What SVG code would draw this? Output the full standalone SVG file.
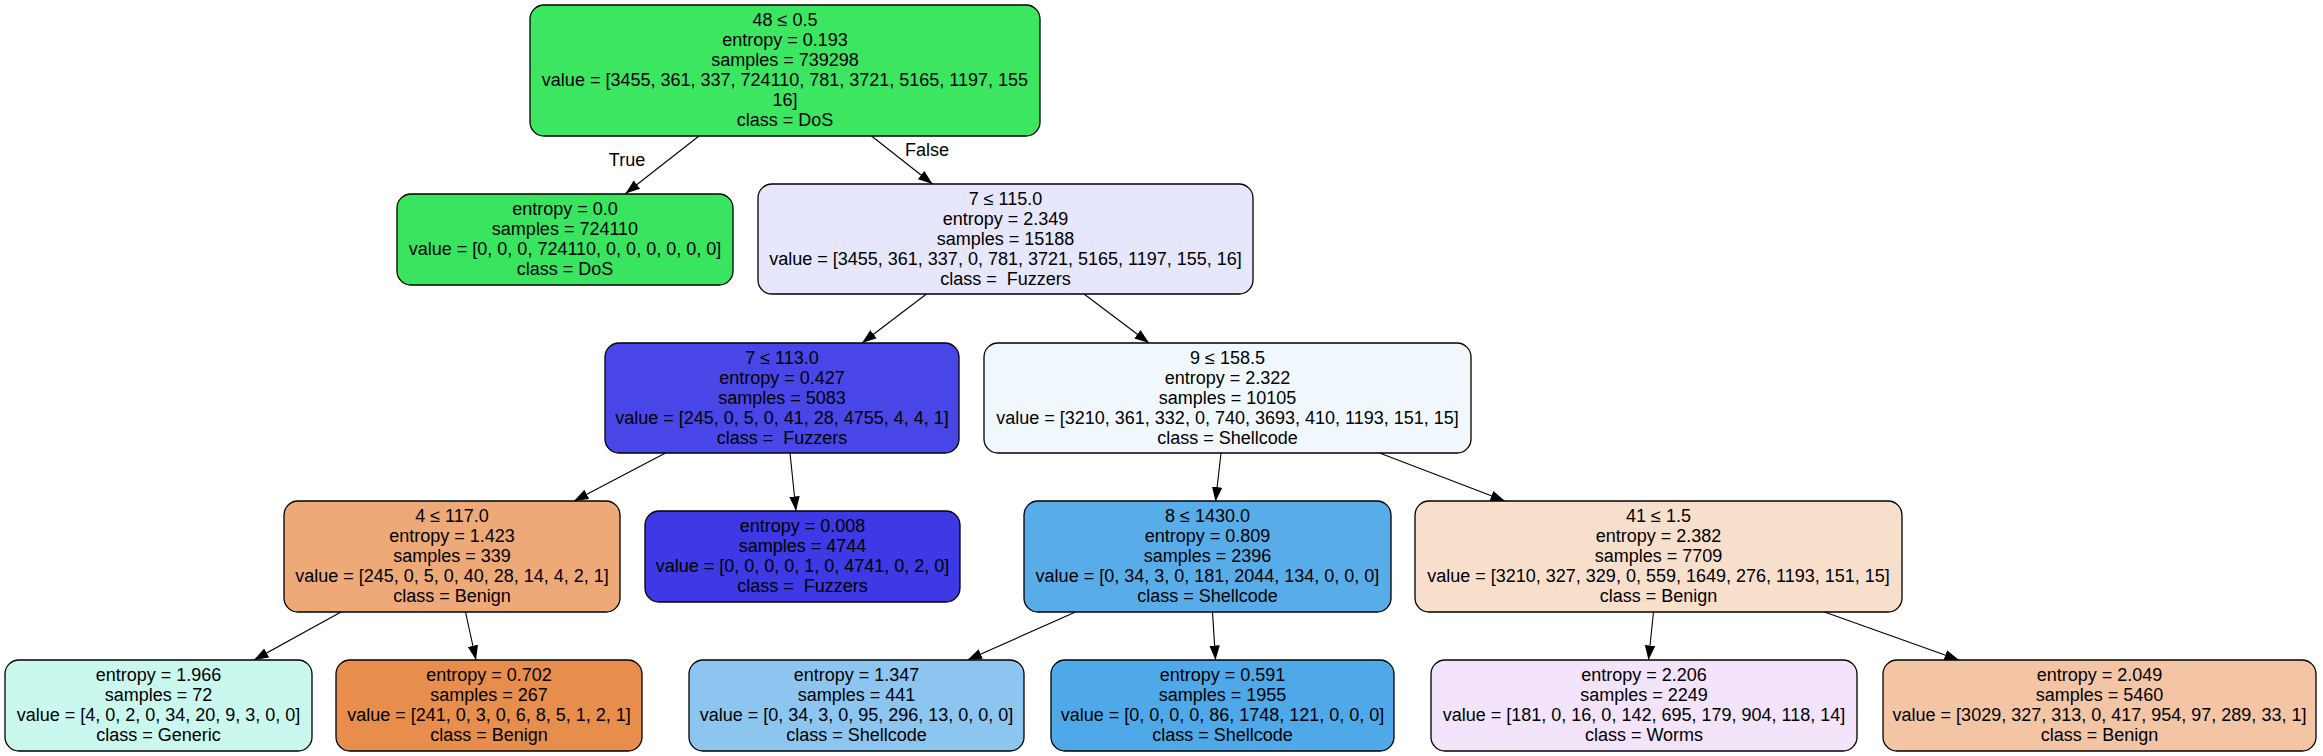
<svg xmlns="http://www.w3.org/2000/svg" width="2323" height="756" viewBox="0 0 2323 756">
<style>
rect.n{stroke:#000;stroke-width:1.3}
text{font-family:"Liberation Sans",Arial,Helvetica,sans-serif;font-size:18px;fill:#000;text-anchor:middle}
.e line{stroke:#000;stroke-width:1.1;marker-end:url(#arr)}
</style>
<defs>
<marker id="arr" markerWidth="15" markerHeight="11" refX="14.5" refY="5.2" orient="auto" markerUnits="userSpaceOnUse">
<path d="M0,0 L14.5,5.2 L0,10.4 Z" fill="#000"/>
</marker>
</defs>
<rect width="2323" height="756" fill="#fff"/>
<g id="connectors" class="e">
<line x1="699" y1="136" x2="625.5" y2="193.5"/>
<line x1="871.5" y1="136" x2="932.5" y2="184"/>
<line x1="926.5" y1="294" x2="862" y2="343"/>
<line x1="1084" y1="294" x2="1149" y2="343"/>
<line x1="665.5" y1="453" x2="574" y2="501"/>
<line x1="790" y1="453" x2="796" y2="511"/>
<line x1="1221" y1="453" x2="1215.5" y2="501.5"/>
<line x1="1379.5" y1="453" x2="1505" y2="501"/>
<line x1="341" y1="612" x2="254" y2="660"/>
<line x1="465.5" y1="612" x2="476" y2="660"/>
<line x1="1075.5" y1="612" x2="967.5" y2="660"/>
<line x1="1212.5" y1="612" x2="1215.5" y2="660"/>
<line x1="1653.5" y1="612" x2="1648.5" y2="660"/>
<line x1="1824.5" y1="612" x2="1959" y2="660"/>
<text x="627" y="166">True</text>
<text x="927" y="156">False</text>
</g>
<g id="n0">
<rect class="n" x="530" y="5" width="510" height="131" rx="14" fill="#3de661"/>
<text x="785" y="26">48 ≤ 0.5</text>
<text x="785" y="46">entropy = 0.193</text>
<text x="785" y="66">samples = 739298</text>
<text x="785" y="86">value = [3455, 361, 337, 724110, 781, 3721, 5165, 1197, 155</text>
<text x="785" y="106">16]</text>
<text x="785" y="126">class = DoS</text>
</g>
<g id="n1">
<rect class="n" x="397" y="194" width="336" height="91" rx="14" fill="#39e55e"/>
<text x="565" y="214.5">entropy = 0.0</text>
<text x="565" y="234.5">samples = 724110</text>
<text x="565" y="254.5">value = [0, 0, 0, 724110, 0, 0, 0, 0, 0, 0]</text>
<text x="565" y="274.5">class = DoS</text>
</g>
<g id="n2">
<rect class="n" x="758" y="184" width="495" height="110" rx="14" fill="#e6e6fc"/>
<text x="1005.5" y="204.5">7 ≤ 115.0</text>
<text x="1005.5" y="224.5">entropy = 2.349</text>
<text x="1005.5" y="244.5">samples = 15188</text>
<text x="1005.5" y="264.5">value = [3455, 361, 337, 0, 781, 3721, 5165, 1197, 155, 16]</text>
<text x="1005.5" y="284.5" xml:space="preserve">class =  Fuzzers</text>
</g>
<g id="n3">
<rect class="n" x="605" y="343" width="354" height="110" rx="14" fill="#4946e7"/>
<text x="782" y="363.5">7 ≤ 113.0</text>
<text x="782" y="383.5">entropy = 0.427</text>
<text x="782" y="403.5">samples = 5083</text>
<text x="782" y="423.5">value = [245, 0, 5, 0, 41, 28, 4755, 4, 4, 1]</text>
<text x="782" y="443.5" xml:space="preserve">class =  Fuzzers</text>
</g>
<g id="n4">
<rect class="n" x="984" y="343" width="487" height="110" rx="14" fill="#f1f8fd"/>
<text x="1227.5" y="363.5">9 ≤ 158.5</text>
<text x="1227.5" y="383.5">entropy = 2.322</text>
<text x="1227.5" y="403.5">samples = 10105</text>
<text x="1227.5" y="423.5">value = [3210, 361, 332, 0, 740, 3693, 410, 1193, 151, 15]</text>
<text x="1227.5" y="443.5">class = Shellcode</text>
</g>
<g id="n5">
<rect class="n" x="284" y="501" width="336" height="111" rx="14" fill="#eda977"/>
<text x="452" y="521.5">4 ≤ 117.0</text>
<text x="452" y="541.5">entropy = 1.423</text>
<text x="452" y="561.5">samples = 339</text>
<text x="452" y="581.5">value = [245, 0, 5, 0, 40, 28, 14, 4, 2, 1]</text>
<text x="452" y="601.5">class = Benign</text>
</g>
<g id="n6">
<rect class="n" x="645" y="511" width="315" height="91" rx="14" fill="#3c39e5"/>
<text x="802.5" y="531.5">entropy = 0.008</text>
<text x="802.5" y="551.5">samples = 4744</text>
<text x="802.5" y="571.5">value = [0, 0, 0, 0, 1, 0, 4741, 0, 2, 0]</text>
<text x="802.5" y="591.5" xml:space="preserve">class =  Fuzzers</text>
</g>
<g id="n7">
<rect class="n" x="1024" y="501" width="367" height="111" rx="14" fill="#58ade9"/>
<text x="1207.5" y="521.5">8 ≤ 1430.0</text>
<text x="1207.5" y="541.5">entropy = 0.809</text>
<text x="1207.5" y="561.5">samples = 2396</text>
<text x="1207.5" y="581.5">value = [0, 34, 3, 0, 181, 2044, 134, 0, 0, 0]</text>
<text x="1207.5" y="601.5">class = Shellcode</text>
</g>
<g id="n8">
<rect class="n" x="1415" y="501" width="487" height="111" rx="14" fill="#f8dfcc"/>
<text x="1658.5" y="521.5">41 ≤ 1.5</text>
<text x="1658.5" y="541.5">entropy = 2.382</text>
<text x="1658.5" y="561.5">samples = 7709</text>
<text x="1658.5" y="581.5">value = [3210, 327, 329, 0, 559, 1649, 276, 1193, 151, 15]</text>
<text x="1658.5" y="601.5">class = Benign</text>
</g>
<g id="n9">
<rect class="n" x="5" y="660" width="307" height="91" rx="14" fill="#caf8ef"/>
<text x="158.5" y="680.5">entropy = 1.966</text>
<text x="158.5" y="700.5">samples = 72</text>
<text x="158.5" y="720.5">value = [4, 0, 2, 0, 34, 20, 9, 3, 0, 0]</text>
<text x="158.5" y="740.5">class = Generic</text>
</g>
<g id="n10">
<rect class="n" x="336" y="660" width="306" height="91" rx="14" fill="#e88e4d"/>
<text x="489" y="680.5">entropy = 0.702</text>
<text x="489" y="700.5">samples = 267</text>
<text x="489" y="720.5">value = [241, 0, 3, 0, 6, 8, 5, 1, 2, 1]</text>
<text x="489" y="740.5">class = Benign</text>
</g>
<g id="n11">
<rect class="n" x="689" y="660" width="335" height="91" rx="14" fill="#8cc6f0"/>
<text x="856.5" y="680.5">entropy = 1.347</text>
<text x="856.5" y="700.5">samples = 441</text>
<text x="856.5" y="720.5">value = [0, 34, 3, 0, 95, 296, 13, 0, 0, 0]</text>
<text x="856.5" y="740.5">class = Shellcode</text>
</g>
<g id="n12">
<rect class="n" x="1051" y="660" width="343" height="91" rx="14" fill="#4fa8e8"/>
<text x="1222.5" y="680.5">entropy = 0.591</text>
<text x="1222.5" y="700.5">samples = 1955</text>
<text x="1222.5" y="720.5">value = [0, 0, 0, 0, 86, 1748, 121, 0, 0, 0]</text>
<text x="1222.5" y="740.5">class = Shellcode</text>
</g>
<g id="n13">
<rect class="n" x="1431" y="660" width="426" height="91" rx="14" fill="#f3e4fc"/>
<text x="1644" y="680.5">entropy = 2.206</text>
<text x="1644" y="700.5">samples = 2249</text>
<text x="1644" y="720.5">value = [181, 0, 16, 0, 142, 695, 179, 904, 118, 14]</text>
<text x="1644" y="740.5">class = Worms</text>
</g>
<g id="n14">
<rect class="n" x="1883" y="660" width="433" height="91" rx="14" fill="#f3c5a4"/>
<text x="2099.5" y="680.5">entropy = 2.049</text>
<text x="2099.5" y="700.5">samples = 5460</text>
<text x="2099.5" y="720.5">value = [3029, 327, 313, 0, 417, 954, 97, 289, 33, 1]</text>
<text x="2099.5" y="740.5">class = Benign</text>
</g>
</svg>
